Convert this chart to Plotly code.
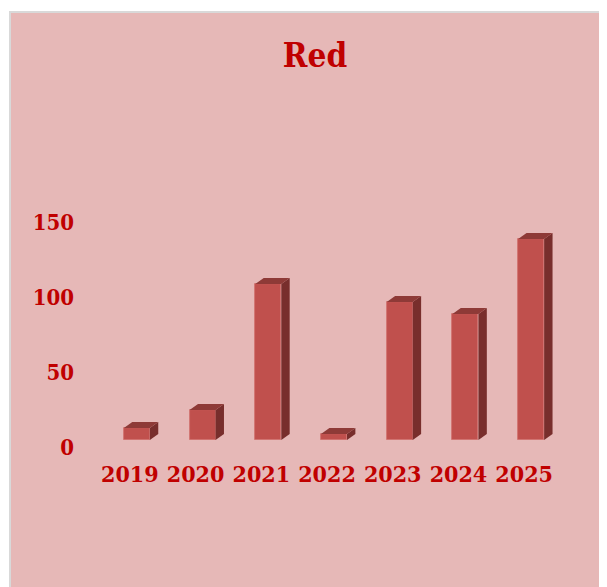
import plotly.graph_objects as go

# ---- data ----
years = ["2019", "2020", "2021", "2022", "2023", "2024", "2025"]
values = [8, 20, 104, 4, 92, 84, 134]
y_ticks = [0, 50, 100, 150]
title_text = "Red"

# ---- style / layout constants ----
# the page adds an 8px body margin, so the figure is 8px smaller
W, H = 599, 579
L, R, T, B = 89, 50, 192, 147
plot_w = W - L - R
plot_h = H - T - B
y_max = 160
px_per_cat = plot_w / len(years)
px_per_unit = plot_h / y_max

bar_width = 26 / px_per_cat
bar_offset = -6 / px_per_cat
dx = 8.4 / px_per_cat          # depth offset (x, in category units)
dy = 6.0 / px_per_unit         # depth offset (y, in value units)

FRONT = "#C0504D"
TOP = "#8E3A37"
SIDE = "#782E2C"
TEXT = "#C00000"
PANEL = "#E6B8B7"
FONT = "DejaVu Serif Condensed, DejaVu Serif, Liberation Serif, serif"

xs = list(range(len(years)))

fig = go.Figure()

# side and top faces (3D effect), derived from the data
for i, v in zip(xs, values):
    xl = i + bar_offset
    xr = xl + bar_width
    fig.add_trace(go.Scatter(
        x=[xr, xr + dx, xr + dx, xr, xr],
        y=[0, dy, v + dy, v, 0],
        fill="toself", fillcolor=SIDE, mode="lines",
        line=dict(width=0), hoverinfo="skip", showlegend=False))
    fig.add_trace(go.Scatter(
        x=[xl, xr, xr + dx, xl + dx, xl],
        y=[v, v, v + dy, v + dy, v],
        fill="toself", fillcolor=TOP, mode="lines",
        line=dict(width=0), hoverinfo="skip", showlegend=False))

fig.add_trace(go.Bar(
    x=xs, y=values, width=bar_width, offset=bar_offset,
    marker=dict(color=FRONT, line=dict(color="#CF6F6C", width=0.8)),
    showlegend=False))

# panel background
def px_to_paper_x(px):
    return (px - L) / plot_w

def px_to_paper_y(py):
    return (H - B - py) / plot_h

fig.add_shape(type="rect", xref="paper", yref="paper", layer="below",
              x0=px_to_paper_x(2), x1=px_to_paper_x(W + 20),
              y0=px_to_paper_y(H + 20), y1=px_to_paper_y(4),
              fillcolor=PANEL, line=dict(color="#D9D9D9", width=2))

fig.update_layout(
    width=W, height=H,
    margin=dict(l=L, r=R, t=T, b=B),
    paper_bgcolor="white",
    plot_bgcolor="rgba(0,0,0,0)",
    title=dict(text=title_text, x=307 / W, y=1 - 47 / H,
               xanchor="center", yanchor="middle",
               font=dict(family=FONT, size=33, color=TEXT, weight="bold")),
    xaxis=dict(range=[-0.5, len(years) - 0.5], tickmode="array",
               tickvals=xs, ticktext=years, showgrid=False, zeroline=False,
               showline=False, ticks="", ticklabelstandoff=18,
               tickfont=dict(family=FONT, size=23, color=TEXT, weight="bold")),
    yaxis=dict(range=[0, y_max], tickmode="array", tickvals=y_ticks,
               showgrid=False, zeroline=False, showline=False, ticks="",
               ticklabelstandoff=22, ticklabelshift=7,
               tickfont=dict(family=FONT, size=22, color=TEXT, weight="bold")),
    bargap=0,
)

fig.write_html("out.html")
